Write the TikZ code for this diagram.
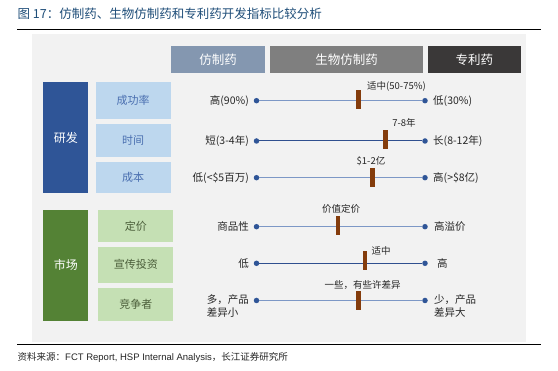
\documentclass[tikz,border=0pt]{standalone}
\usepackage{fontspec}
\setmainfont{Noto Sans CJK SC}
\newfontfamily\latinf{Liberation Sans}
\definecolor{bggray}{HTML}{F2F2F2}
\definecolor{titleblue}{HTML}{1F4E79}
\definecolor{hgen}{HTML}{8497B0}
\definecolor{hbio}{HTML}{7F7F7F}
\definecolor{hpat}{HTML}{3A3838}
\definecolor{rdblue}{HTML}{2F5597}
\definecolor{rdlight}{HTML}{BDD7EE}
\definecolor{rdtext}{HTML}{4A6FB0}
\definecolor{mkgreen}{HTML}{548235}
\definecolor{mklight}{HTML}{C5E0B4}
\definecolor{mktext}{HTML}{4B5E3A}
\definecolor{linelt}{HTML}{7D98C6}
\definecolor{linedk}{HTML}{2F4F8F}
\definecolor{marker}{HTML}{843C0C}
\definecolor{txt}{HTML}{262626}
\tikzset{
  hdr/.style={inner sep=0pt, text=white, font=\fontsize{12.5}{14}\selectfont, minimum height=27.5pt},
  bigbox/.style={inner sep=0pt, text=white, font=\fontsize{12}{14}\selectfont, minimum width=45pt},
  rdsub/.style={fill=rdlight, text=rdtext, inner sep=0pt, minimum width=75pt, font=\fontsize{11}{13}\selectfont},
  mksub/.style={fill=mklight, text=mktext, inner sep=0pt, minimum width=75pt, font=\fontsize{11}{13}\selectfont},
  endpt/.style={circle, fill=rdblue, inner sep=0pt, minimum size=5.5pt},
  lval/.style={anchor=east, inner sep=0pt, text=txt, font=\fontsize{10.5}{13}\selectfont},
  rval/.style={anchor=west, inner sep=0pt, text=txt, font=\fontsize{10.5}{13}\selectfont},
  mkbar/.style={fill=marker, inner sep=0pt, minimum width=4.5pt, minimum height=19pt},
  mklab/.style={inner sep=0pt, text=txt, font=\fontsize{9.5}{11}\selectfont},
}
\begin{document}
\begin{tikzpicture}[x=1pt,y=-1pt]
\useasboundingbox (0,0) rectangle (558,371);
\fill[white] (0,0) rectangle (558,371);
% title
\node[anchor=west, inner sep=0pt, text=titleblue, font=\fontsize{12.5}{14}\selectfont] (title) at (17.5,14) {图 17：仿制药、生物仿制药和专利药开发指标比较分析};
\coordinate (r1a) at (17,29.5);
\coordinate (r1b) at (541,29.5);
\draw[line width=1.2pt] (r1a) -- (r1b);
% background
\fill[bggray] (32,34.5) rectangle (525.7,341.7);
\coordinate (r2a) at (17,344.8);
\coordinate (r2b) at (541,344.8);
\draw[line width=1.2pt] (r2a) -- (r2b);
\node[anchor=west, inner sep=0pt, text=txt, font=\fontsize{9.5}{11}\selectfont] (src) at (17.5,357) {资料来源：{\latinf FCT Report, HSP Internal Analysis}，长江证券研究所};
% headers
\node[hdr, fill=hgen, minimum width=94.5pt] (h1) at (218.2,59.5) {仿制药};
\node[hdr, fill=hbio, minimum width=153pt] (h2) at (346.5,59.5) {生物仿制药};
\node[hdr, fill=hpat, minimum width=92.5pt] (h3) at (474.3,59.5) {专利药};
% big boxes
\node[bigbox, fill=rdblue, minimum height=111.6pt] (rd) at (65.8,137.5) {研发};
\node[bigbox, fill=mkgreen, minimum height=110.7pt] (mk) at (65.8,265.35) {市场};
% sub boxes
\node[rdsub, minimum height=37.3pt] (s1) at (133.2,100.35) {成功率};
\node[rdsub, minimum height=32.7pt] (s2) at (133.2,140.35) {时间};
\node[rdsub, minimum height=31.6pt] (s3) at (133.2,177.5) {成本};
\node[mksub, minimum height=31.7pt] (s4) at (135.8,225.85) {定价};
\node[mksub, minimum height=36pt] (s5) at (135.8,264.7) {宣传投资};
\node[mksub, minimum height=33pt] (s6) at (135.8,304.2) {竞争者};
% scales
\foreach \i/\y/\col/\lw in {1/100.7/linelt/1.4pt, 2/141/linedk/1pt, 3/177.7/linelt/1.4pt, 4/226.7/linelt/1.2pt, 5/263.3/linedk/1pt, 6/300.5/linelt/1.2pt} {
  \node[endpt] (a\i) at (256.5,\y) {};
  \node[endpt] (b\i) at (425,\y) {};
  \draw[line width=\lw, draw=\col] (a\i) -- (b\i);
}
% left values
\node[lval] (l1) at (249,100.7) {高(90\%)};
\node[lval] (l2) at (249,141) {短(3-4年)};
\node[lval] (l3) at (249,177.7) {低(<\$5百万)};
\node[lval] (l4) at (249,226.7) {商品性};
\node[lval] (l5) at (249,263.3) {低};
\node[lval, align=left] (l6) at (249,306.5) {多，产品\\差异小};
% right values
\node[rval] (r1) at (433,100.7) {低(30\%)};
\node[rval] (r2) at (433,141) {长(8-12年)};
\node[rval] (r3) at (433,177.7) {高(>\$8亿)};
\node[rval] (r4) at (434,226.7) {高溢价};
\node[rval] (r5) at (437,263.3) {高};
\node[rval, align=left] (r6) at (434,306.5) {少，产品\\差异大};
% markers
\node[mkbar] (m1) at (358.7,99.7) {};
\node[mkbar] (m2) at (385.3,139.5) {};
\node[mkbar] (m3) at (372.3,177.6) {};
\node[mkbar] (m4) at (338,225.5) {};
\node[mkbar] (m5) at (365,260.4) {};
\node[mkbar] (m6) at (358.7,300.8) {};
\node[mklab] (t1) at (396.5,86.7) {适中(50-75\%)};
\node[mklab] (t2) at (404,123.3) {7-8年};
\node[mklab] (t3) at (371,160.7) {\$1-2亿};
\node[mklab] (t4) at (341,209) {价值定价};
\node[mklab] (t5) at (381,251) {适中};
\node[mklab] (t6) at (362.5,285) {一些，有些许差异};
\end{tikzpicture}
\end{document}
